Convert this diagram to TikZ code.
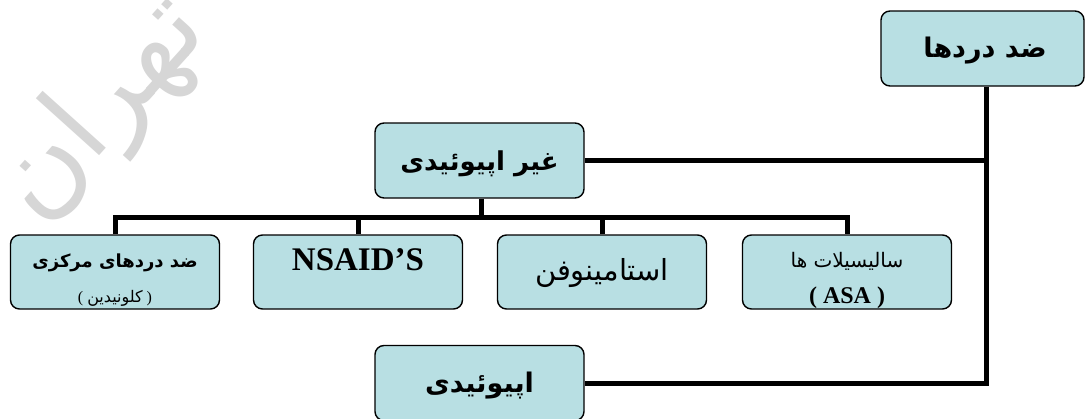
\documentclass[tikz,border=0pt]{standalone}
\usepackage{fontspec}
\setmainfont{Liberation Serif}
\newfontfamily\arabicfont[Script=Arabic]{DejaVu Sans}
\TeXXeTstate=1
\usetikzlibrary{calc}
\definecolor{boxfill}{RGB}{184, 223, 227}
\definecolor{wmgray}{RGB}{214, 214, 214}
\newcommand{\faText}[1]{\arabicfont\beginR #1\endR}
\tikzset{
	box/.style={draw, rounded corners=9pt, line width=1.4pt, fill=boxfill,
		minimum width=209pt, minimum height=75pt, inner sep=0pt},
	conn/.style={line width=5pt},
}

\begin{document}
\begin{tikzpicture}[x=1pt, y=-1pt, text depth=0pt]
	\useasboundingbox (0,0) rectangle (1085,418);

	% watermark
	\node[rotate=48, text=wmgray, font=\fontsize{112}{112}\selectfont] (wmark) at (92,100) {\faText{تهران}};

	% boxes
	\node[box, minimum width=203pt] (root) at (982.5,48.5) {};
	\node[box] (nonOpioid) at (479.5,160.5) {};
	\node[box] (opioid) at (479.5,383) {};
	\foreach \name/\x in {central/115, nsaid/358, acet/602, salicyl/847}{
		\node[box, minimum height=74pt] (\name) at (\x,272) {};
	}

	% connectors
	\coordinate (jTop) at (986,160.5);
	\coordinate (jLow) at (986,383);
	\coordinate (bar) at (481,217);
	\draw[conn] (root.south -| jTop) -- (jLow) -- (opioid.east |- jLow);
	\draw[conn] (nonOpioid.east) -- (jTop);
	\draw[conn] (nonOpioid.south -| bar) -- (bar);
	\draw[conn] (central.north) |- (salicyl.north |- bar) -- (salicyl.north);
	\foreach \name in {nsaid, acet}{
		\draw[conn] (\name.north) -- (\name.north |- bar);
	}

	% texts
	\node[font=\bfseries\fontsize{27}{27}\selectfont] (rootText) at (985,47) {\faText{ضد دردها}};
	\node[font=\bfseries\fontsize{26}{26}\selectfont] (nonOpioidText) at (479.5,161) {\faText{غیر اپیوئیدی}};
	\node[font=\bfseries\fontsize{27}{27}\selectfont] (opioidText) at (479.5,382) {\faText{اپیوئیدی}};
	\node[font=\bfseries\fontsize{18}{18}\selectfont] (centralText) at (115,261) {\faText{ضد دردهای مرکزی}};
	\node[font=\fontsize{16}{16}\selectfont] (centralSub) at (115,296) {( {\faText{کلونیدین}} )};
	\node[font=\bfseries\fontsize{33}{33}\selectfont] (nsaidText) at (358,260) {NSAID’S};
	\node[font=\fontsize{29}{29}\selectfont] (acetText) at (602,269) {\faText{استامینوفن}};
	\node[font=\fontsize{20}{20}\selectfont] (salicylText) at (847,260) {\faText{سالیسیلات ها}};
	\node[font=\bfseries\fontsize{24}{24}\selectfont] (salicylSub) at (847,295) {( ASA )};
\end{tikzpicture}
\end{document}
